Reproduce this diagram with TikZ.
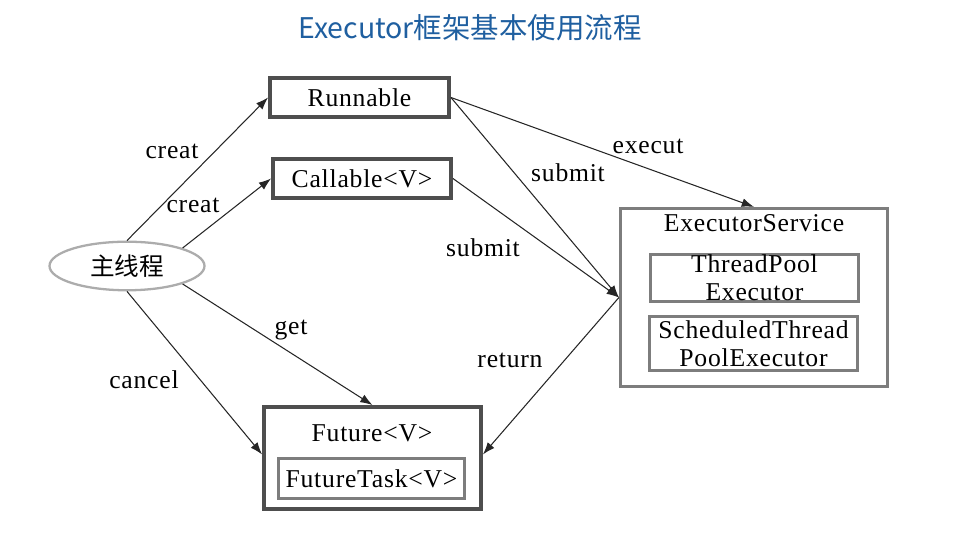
\documentclass[tikz,border=0pt]{standalone}
\usepackage{fontspec}
\setmainfont[LetterSpace=3]{Liberation Serif}
\newfontfamily\cjkfont{Noto Sans CJK SC}
\usetikzlibrary{arrows.meta, shapes.geometric}
\definecolor{titleblue}{RGB}{31, 95, 160}
\definecolor{boxdark}{RGB}{78, 78, 78}
\definecolor{boxgray}{RGB}{125, 125, 125}

\begin{document}
\begin{tikzpicture}[>={Latex[length=7pt, width=5pt]},
  font=\fontsize{14.6}{16}\selectfont,
  darkbox/.style={draw=boxdark, line width=2.2pt, inner sep=0pt},
  graybox/.style={draw=boxgray, line width=1.8pt, inner sep=0pt, align=center},
  flow/.style={->, line width=0.6pt, black!85}]
  \useasboundingbox (0,0) rectangle (19.12,10.72);
  \node[titleblue, font=\cjkfont\fontsize{16.2}{18}\selectfont] (title) at (9.4,10.16) {Executor框架基本使用流程};
  % left side
  \node[ellipse, draw=gray!65, line width=1.3pt, minimum width=3.1cm, minimum height=0.9cm,
        font=\cjkfont\fontsize{14}{16}\selectfont] (main) at (2.54,5.4) {主线程};
  \node[darkbox, minimum width=3.58cm, minimum height=0.78cm] (runnable) at (7.19,8.77) {Runnable};
  \node[darkbox, minimum width=3.56cm, minimum height=0.78cm] (callable) at (7.24,7.15) {Callable<V>};
  % future
  \node[darkbox, minimum width=4.34cm, minimum height=2.04cm] (future) at (7.45,1.56) {};
  \node (futurelbl) at (7.44,2.06) {Future<V>};
  \node[graybox, minimum width=3.72cm, minimum height=0.8cm] (futuretask) at (7.43,1.15) {FutureTask<V>};
  % executor service
  \node[graybox, minimum width=5.34cm, minimum height=3.56cm] (exec) at (15.08,4.77) {};
  \node (execlbl) at (15.08,6.26) {ExecutorService};
  \node[graybox, minimum width=4.16cm, minimum height=0.94cm] (pool) at (15.09,5.16) {ThreadPool\\Executor};
  \node[graybox, minimum width=4.16cm, minimum height=1.08cm] (sched) at (15.07,3.85) {ScheduledThread\\PoolExecutor};
  % connectors
  \draw[flow] (main.north) -- (runnable.west);
  \draw[flow] (main.north east) -- (callable.west);
  \draw[flow] (main.south) -- ([yshift=2pt]future.west);
  \draw[flow] (main.south east) -- (future.north);
  \draw[flow] (runnable.east) -- (exec.north);
  \draw[flow] (runnable.east) -- (exec.west);
  \draw[flow] (callable.east) -- (exec.west);
  \draw[flow] (exec.west) -- ([yshift=2pt]future.east);
  % labels
  \node (creat1) at (3.44,7.7) {creat};
  \node (creat2) at (3.86,6.62) {creat};
  \node (cancel) at (2.88,3.12) {cancel};
  \node (get) at (5.82,4.12) {get};
  \node (execut) at (12.96,7.8) {execut};
  \node (submit1) at (11.36,7.26) {submit};
  \node (submit2) at (9.66,5.76) {submit};
  \node (return) at (10.2,3.52) {return};
\end{tikzpicture}
\end{document}
